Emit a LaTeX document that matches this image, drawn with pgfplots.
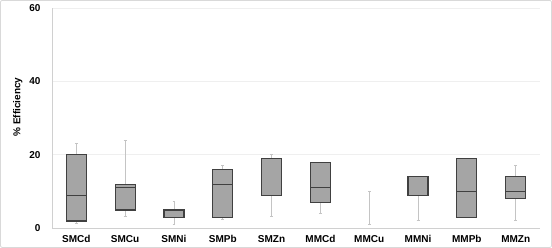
\documentclass[border=0pt]{standalone}
\usepackage{pgfplots}
\pgfplotsset{compat=1.18}
\usepgfplotslibrary{statistics}
\usepackage{fontspec}
\setmainfont{Liberation Sans}
\definecolor{boxfill}{HTML}{A5A5A5}
\definecolor{boxedge}{HTML}{404040}
\definecolor{whisk}{HTML}{C4C4C4}
\definecolor{gridc}{HTML}{EFEFEF}
\definecolor{axc}{HTML}{D0D0D0}
\definecolor{framec}{HTML}{D9D9D9}
\begin{document}
\begin{tikzpicture}[x=1pt,y=1pt]
\draw[framec, line width=0.8pt, rounded corners=2pt] (0.5,0.5) rectangle (551.5,247.5);
\begin{axis}[
  at={(52pt,19.7pt)}, anchor=south west,
  scale only axis, width=488pt, height=220.3pt,
  xmin=-0.5, xmax=9.5, ymin=0, ymax=60,
  ytick={0,20,40,60},
  xtick={0,...,9},
  xticklabels={SMCd,SMCu,SMNi,SMPb,SMZn,MMCd,MMCu,MMNi,MMPb,MMZn},
  major tick length=0pt,
  axis x line*=bottom, axis y line*=left,
  x axis line style={-, axc, line width=1pt},
  y axis line style={-, axc, line width=0.8pt},
  ymajorgrids, grid style={gridc, line width=0.8pt},
  tick label style={font=\fontsize{10}{12}\selectfont\bfseries},
  /pgf/number format/assume math mode=true,
  yticklabel style={xshift=-8pt},
  xticklabel style={yshift=-3.5pt},
  ylabel={\% Efficiency},
  ylabel style={font=\fontsize{10}{12}\selectfont\bfseries, at={(axis description cs:0,0.5)}, anchor=center, xshift=11pt, yshift=34pt},
  boxplot/draw direction=y,
  boxplot/box extend=0.41,
  boxplot/whisker extend=0.06,
  boxplot/every box/.style={draw=boxedge, fill=boxfill, line width=1.2pt},
  boxplot/every median/.style={draw=boxedge, line width=1.2pt},
  boxplot/every whisker/.style={draw=whisk, line width=0.8pt},
]
\addplot[boxplot prepared={draw position=0, lower whisker=1.3, lower quartile=2, median=9, upper quartile=20, upper whisker=23}] coordinates {};
\addplot[boxplot prepared={draw position=1, lower whisker=3.2, lower quartile=5, median=11.2, upper quartile=12, upper whisker=24}] coordinates {};
\addplot[boxplot prepared={draw position=2, lower whisker=1.1, lower quartile=3, median=3, upper quartile=5, upper whisker=7.2}] coordinates {};
\addplot[boxplot prepared={draw position=3, lower whisker=2.3, lower quartile=3, median=12, upper quartile=16, upper whisker=17.2}] coordinates {};
\addplot[boxplot prepared={draw position=4, lower whisker=3.2, lower quartile=9, median=9, upper quartile=19, upper whisker=20.2}] coordinates {};
\addplot[boxplot prepared={draw position=5, lower whisker=4.1, lower quartile=7, median=11.2, upper quartile=18, upper whisker=18}] coordinates {};
\addplot[draw=whisk, line width=0.8pt, mark=-, mark size=1.5pt, mark options={draw=whisk, line width=0.8pt}] coordinates {(6,1.1) (6,10.1)};
\addplot[boxplot prepared={draw position=7, lower whisker=2.2, lower quartile=9, median=9, upper quartile=14, upper whisker=14}] coordinates {};
\addplot[boxplot prepared={draw position=8, lower whisker=3, lower quartile=3, median=10, upper quartile=19, upper whisker=19}] coordinates {};
\addplot[boxplot prepared={draw position=9, lower whisker=2.2, lower quartile=8, median=10, upper quartile=14, upper whisker=17.2}] coordinates {};
\end{axis}
\end{tikzpicture}
\end{document}
